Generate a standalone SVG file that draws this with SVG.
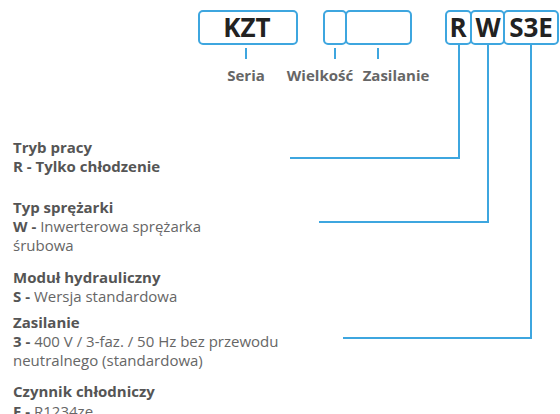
<svg xmlns="http://www.w3.org/2000/svg" width="560" height="414" viewBox="0 0 560 414">
<style>
.box{fill:#fff;stroke:#3ea6df;stroke-width:2}
.code{font-family:"Open Sans",sans-serif;font-weight:700;font-size:26px;fill:#222;text-anchor:middle}
.lbl{font-family:"Open Sans",sans-serif;font-weight:700;font-size:15px;fill:#666;text-anchor:middle}
.ln{fill:none;stroke:#3ea6df;stroke-width:2}
.t{font-family:"Open Sans",sans-serif;font-size:15px;fill:#666}
.b{font-weight:700;fill:#555}
</style>
<rect width="560" height="414" fill="#fff"/>
<g id="kzt"><rect class="box" x="199" y="11" width="98" height="33" rx="4"/><text class="code" x="247" y="37">KZT</text></g>
<g id="size"><rect class="box" x="324" y="11" width="22" height="33" rx="4"/></g>
<g id="supply"><rect class="box" x="346" y="11" width="65" height="33" rx="4"/></g>
<g id="r"><rect class="box" x="446" y="11" width="25" height="33" rx="4"/><text class="code" x="458" y="37">R</text></g>
<g id="w"><rect class="box" x="471" y="11" width="33" height="33" rx="4"/><text class="code" x="488" y="37">W</text></g>
<g id="s3e"><rect class="box" x="504" y="11" width="54" height="33" rx="4"/><text class="code" x="531" y="37">S3E</text></g>
<g id="labels">
<text class="lbl" x="246" y="81">Seria</text>
<text class="lbl" x="320" y="81">Wielkość</text>
<text class="lbl" x="396" y="81">Zasilanie</text>
</g>
<g id="connectors">
<path class="ln" d="M246 48V59M335 48V59M378 48V59"/>
<path class="ln" d="M459 44V158H290"/>
<path class="ln" d="M488 44V222H319"/>
<path class="ln" d="M531 44V338H343"/>
</g>
<g id="desc">
<text class="t b" x="13" y="153">Tryb pracy</text>
<text class="t b" x="13" y="172">R - Tylko chłodzenie</text>
<text class="t b" x="13" y="213">Typ sprężarki</text>
<text class="t" x="13" y="232"><tspan class="b">W - </tspan>Inwerterowa sprężarka</text>
<text class="t" x="13" y="251">śrubowa</text>
<text class="t b" x="13" y="283">Moduł hydrauliczny</text>
<text class="t" x="13" y="302"><tspan class="b">S - </tspan>Wersja standardowa</text>
<text class="t b" x="13" y="328">Zasilanie</text>
<text class="t" x="13" y="347"><tspan class="b">3 - </tspan>400 V / 3-faz. / 50 Hz bez przewodu</text>
<text class="t" x="13" y="366">neutralnego (standardowa)</text>
<text class="t b" x="13" y="397">Czynnik chłodniczy</text>
<text class="t" x="13" y="417"><tspan class="b">E - </tspan>R1234ze</text>
</g>
</svg>
